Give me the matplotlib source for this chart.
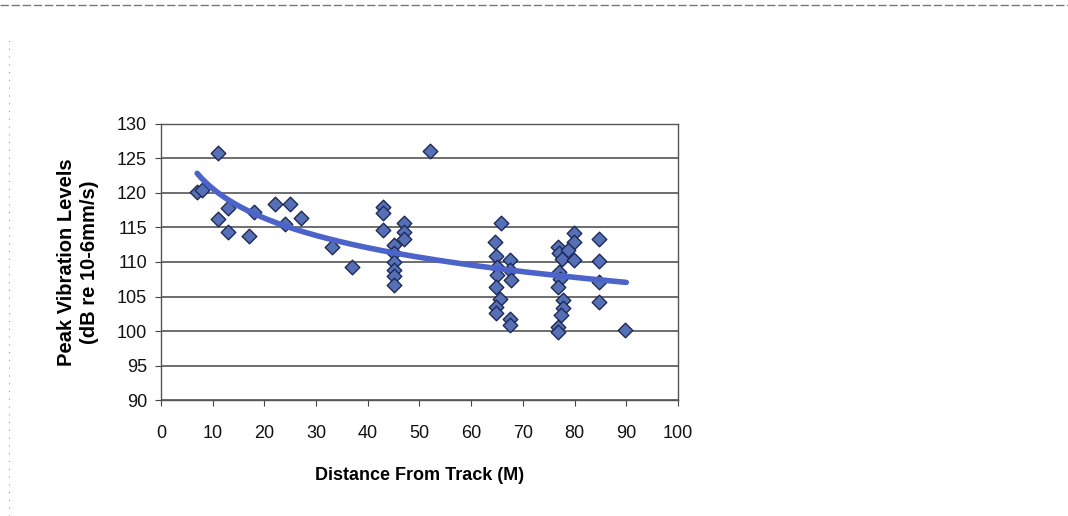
import matplotlib
matplotlib.use("Agg")
import matplotlib.pyplot as plt
import numpy as np

plt.rcParams['font.family'] = ['Liberation Sans', 'DejaVu Sans']

distance = [7, 8, 11, 11, 13, 13, 17, 18, 22, 24, 25, 27, 33, 37,
            43, 43, 43, 45, 45, 45, 45, 45, 45, 47, 47, 47, 52,
            65.7, 64.6, 64.9, 65, 65, 64.9, 65.6, 64.9, 64.9,
            67.6, 67.6, 67.8, 67.5, 67.5,
            76.7, 76.9, 77.5, 79.8, 79.8, 78.8, 79.8, 76.9, 77.2, 76.7,
            77.8, 77.8, 77.3, 76.7, 76.7,
            84.7, 84.7, 84.7, 84.7, 89.7]
level = [120.2, 120.5, 125.8, 116.2, 117.8, 114.3, 113.8, 117.2, 118.4, 115.5, 118.4, 116.4, 112.2, 109.3,
         117.9, 117.1, 114.7, 112.5, 111.3, 110.0, 108.8, 107.9, 106.7, 115.6, 114.4, 113.4, 126.1,
         115.6, 112.9, 110.8, 109.3, 108.1, 106.4, 104.7, 103.5, 102.6,
         110.3, 108.8, 107.4, 101.8, 100.9,
         112.2, 111.3, 110.5, 114.2, 112.9, 111.7, 110.3, 108.6, 107.6, 106.4,
         104.5, 103.3, 102.3, 100.6, 99.9,
         113.4, 110.2, 107.1, 104.2, 100.2]

# logarithmic trend line (Excel style), coefficients
trend_a = 134.9
trend_b = -6.19
trend_from = 7
trend_to = 90

x_ticks = [0, 10, 20, 30, 40, 50, 60, 70, 80, 90, 100]
y_ticks = [90, 95, 100, 105, 110, 115, 120, 125, 130]

fig = plt.figure(figsize=(10.68, 5.16), dpi=100)
ax = fig.add_axes([0.1507, 0.2248, 0.4841, 0.5349])

ax.set_xlim(0, 100)
ax.set_ylim(90, 130)
ax.set_xticks(x_ticks)
ax.set_yticks(y_ticks)
ax.tick_params(axis='both', labelsize=13, direction='out', length=4, width=0.8, colors='#444444', labelcolor='#111111')
ax.tick_params(axis='x', pad=14)
ax.tick_params(axis='y', pad=6)
ax.yaxis.grid(True, color='#555555', linewidth=1.2)
ax.set_axisbelow(True)
for side in ['left', 'bottom', 'right', 'top']:
    ax.spines[side].set_color('#555555')
    ax.spines[side].set_linewidth(1.0)

ax.scatter(distance, level, marker='D', s=55, color='#5670b8', edgecolors='#1e2a55', linewidths=1.0, zorder=3)

tx = np.linspace(trend_from, trend_to, 200)
ax.plot(tx, trend_a + trend_b * np.log(tx), color='#4c63c9', linewidth=4, solid_capstyle='round', zorder=4)

ax.set_xlabel('Distance From Track (M)', fontsize=13, fontweight='bold', labelpad=18)
ax.set_ylabel('Peak Vibration Levels\n(dB re 10-6mm/s)', fontsize=14.5, fontweight='bold', labelpad=13, linespacing=1.25)

# scan border lines
fig.add_artist(plt.Line2D([0.0, 1.0], [0.99, 0.99], transform=fig.transFigure, color='#777777', linewidth=1.0, linestyle=(0, (6, 2))))
fig.add_artist(plt.Line2D([0.008, 0.008], [0.0, 0.93], transform=fig.transFigure, color='#999999', linewidth=0.8, linestyle=(0, (1, 6))))

fig.savefig('out.png', dpi=100)
